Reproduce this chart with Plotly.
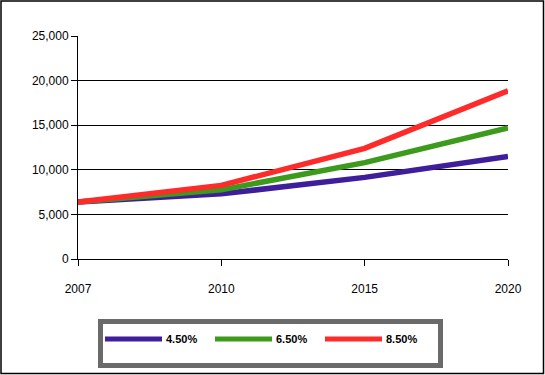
import plotly.graph_objects as go

years = ["2007", "2010", "2015", "2020"]
series_names = ["4.50%", "6.50%", "8.50%"]
values_45 = [6400, 7300, 9150, 11500]
values_65 = [6400, 7750, 10800, 14700]
values_85 = [6400, 8250, 12400, 18850]
colors = ["#3F1E9C", "#3C9A1C", "#FF2B2B"]
y_ticks = [0, 5000, 10000, 15000, 20000, 25000]

W, H = 545, 375
L, R, T, B = 78, 37, 36, 116
PW, PH = W - L - R, H - T - B

def px(x):
    return (x - L) / PW

def py(y):
    return (H - B - y) / PH

fig = go.Figure()
for name, vals, col in zip(series_names, [values_45, values_65, values_85], colors):
    fig.add_trace(go.Scatter(x=years, y=vals, mode="lines", name=name,
                             line=dict(color=col, width=5.5), showlegend=False,
                             cliponaxis=False))

shapes = []
# outer border
shapes.append(dict(type="rect", xref="paper", yref="paper",
                   x0=px(1), x1=px(543.5), y0=py(373.5), y1=py(1),
                   line=dict(color="black", width=1.5), layer="below"))
# legend box
shapes.append(dict(type="rect", xref="paper", yref="paper",
                   x0=px(100.5), x1=px(440.5), y0=py(365.5), y1=py(321.5),
                   line=dict(color="#6a6a6a", width=5), fillcolor="white"))
annotations = []
leg_x = [105, 215, 325]
for name, col, x0 in zip(series_names, colors, leg_x):
    shapes.append(dict(type="line", xref="paper", yref="paper",
                       x0=px(x0), x1=px(x0 + 57), y0=py(339), y1=py(339),
                       line=dict(color=col, width=5)))
    annotations.append(dict(xref="paper", yref="paper", x=px(x0 + 59), y=py(339),
                            text="<b>" + name + "</b>", showarrow=False,
                            xanchor="left", yanchor="middle",
                            font=dict(size=11, color="black", family="Liberation Sans, Arial")))

fig.update_layout(
    width=W, height=H,
    margin=dict(l=L, r=R, t=T, b=B),
    paper_bgcolor="white", plot_bgcolor="white",
    font=dict(family="Liberation Sans, Arial", size=12, color="black"),
    shapes=shapes, annotations=annotations,
    xaxis=dict(type="category", range=[0, 3], showgrid=False, showline=True,
               linecolor="black", linewidth=1, ticks="outside", ticklen=6,
               tickcolor="black", ticklabelstandoff=13, zeroline=False,
               tickfont=dict(size=12)),
    yaxis=dict(range=[0, 25000], tickvals=y_ticks, tickformat=",",
               showgrid=True, gridcolor="black", gridwidth=1,
               showline=True, linecolor="black", linewidth=1,
               ticks="outside", ticklen=6, tickcolor="black",
               zeroline=False, tickfont=dict(size=12)),
)
fig.write_html("out.html", config={"displayModeBar": False},
               post_script="document.body.style.margin='0';document.body.style.overflow='hidden';")
